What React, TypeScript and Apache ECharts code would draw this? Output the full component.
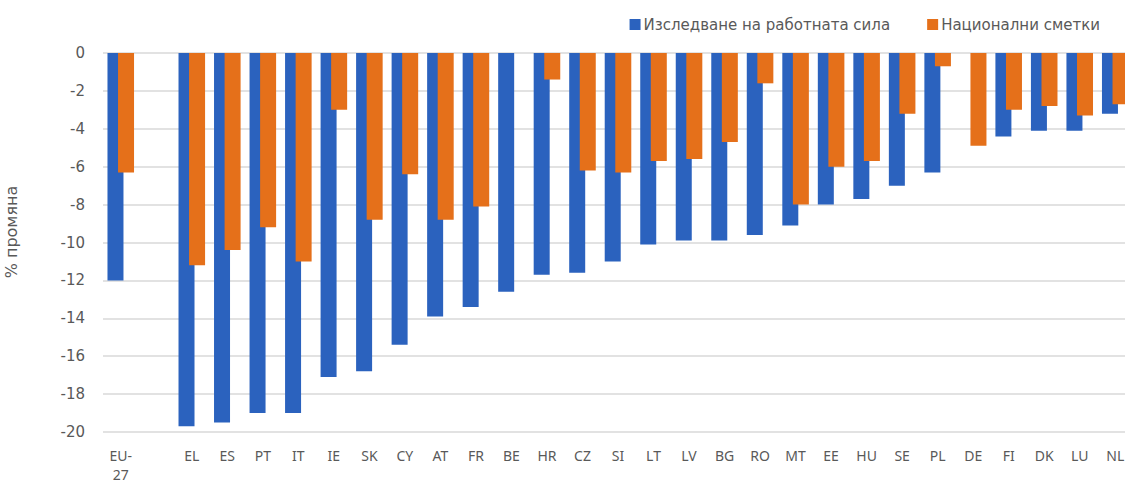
import React, { useEffect, useRef } from "react";
import * as echarts from "echarts";

const categories = ["EU-27", "", "EL", "ES", "PT", "IT", "IE", "SK", "CY", "AT", "FR", "BE", "HR", "CZ", "SI", "LT", "LV", "BG", "RO", "MT", "EE", "HU", "SE", "PL", "DE", "FI", "DK", "LU", "NL"];
const lfsValues = [-12.0, null, -19.7, -19.5, -19.0, -19.0, -17.1, -16.8, -15.4, -13.9, -13.4, -12.6, -11.7, -11.6, -11.0, -10.1, -9.9, -9.9, -9.6, -9.1, -8.0, -7.7, -7.0, -6.3, null, -4.4, -4.1, -4.1, -3.2];
const naValues = [-6.3, null, -11.2, -10.4, -9.2, -11.0, -3.0, -8.8, -6.4, -8.8, -8.1, null, -1.4, -6.2, -6.3, -5.7, -5.6, -4.7, -1.6, -8.0, -6.0, -5.7, -3.2, -0.7, -4.9, -3.0, -2.8, -3.3, -2.7];
const seriesNames = ["Изследване на работната сила", "Национални сметки"];
const yTicks = { min: -20, max: 0, interval: 2 };
const yAxisName = "% промяна";

const BLUE = "#2B62BE";
const ORANGE = "#E5701A";
const TEXT = "#595959";
const FONT = "Noto Sans";
const WIDE = "DejaVu Sans";

export default function App() {
  const ref = useRef<HTMLDivElement>(null);
  useEffect(() => {
    if (!ref.current) return;
    const chart = echarts.init(ref.current, undefined, { renderer: "svg" });
    chart.setOption({
      animation: false,
      textStyle: { fontFamily: FONT, color: TEXT },
      legend: {
        top: 12,
        right: 28,
        itemWidth: 11,
        itemHeight: 11,
        itemGap: 37,
        icon: "rect",
        textStyle: { fontSize: 15, color: TEXT, fontFamily: WIDE, padding: [0, 0, 0, -2] },
        data: seriesNames,
      },
      grid: { left: 103, right: 0, top: 53, bottom: 55, containLabel: false, outerBoundsMode: "none" },
      graphic: [
        {
          type: "text",
          x: 11,
          y: 232,
          rotation: Math.PI / 2,
          style: {
            text: yAxisName,
            fontSize: 16,
            fontFamily: WIDE,
            fill: TEXT,
            align: "center",
            verticalAlign: "middle",
          },
        },
      ],
      xAxis: {
        type: "category",
        data: categories,
        axisLine: { show: false },
        axisTick: { show: false },
        axisLabel: {
          interval: 0,
          margin: 14,
          fontSize: 14,
          color: TEXT,
          fontFamily: FONT,
          lineHeight: 19,
          formatter: (v: string) => v.replace("EU-", "EU-\n"),
        },
      },
      yAxis: {
        type: "value",
        min: yTicks.min,
        max: yTicks.max,
        interval: yTicks.interval,
        axisLine: { show: false },
        axisTick: { show: false },
        axisLabel: { margin: 18, fontSize: 15, color: TEXT, fontFamily: WIDE },
        splitLine: { lineStyle: { color: "#d9d9d9", width: 1.5 } },
      },
      series: [
        {
          name: seriesNames[0],
          type: "bar",
          data: lfsValues,
          barWidth: 16,
          barGap: "-34%",
          itemStyle: { color: BLUE },
        },
        {
          name: seriesNames[1],
          type: "bar",
          data: naValues,
          barWidth: 16,
          barGap: "-34%",
          itemStyle: { color: ORANGE },
        },
      ],
    });
    return () => chart.dispose();
  }, []);
  return (
    <div style={{ position: "fixed", left: 0, top: 0, width: 1125, height: 487, overflow: "hidden", background: "#fff" }}>
      <div ref={ref} style={{ width: 1133, height: 487 }} />
    </div>
  );
}
